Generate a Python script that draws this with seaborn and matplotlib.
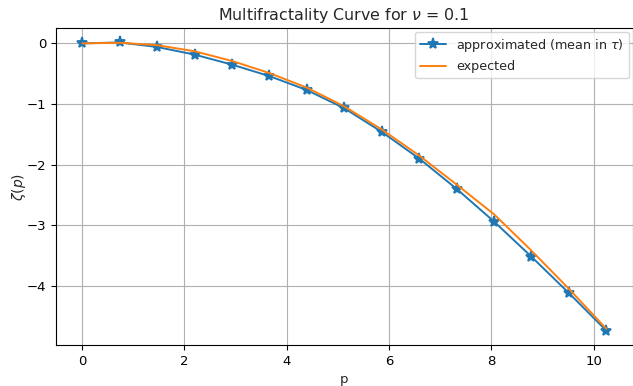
import numpy as np
import pandas as pd
import matplotlib
matplotlib.use("Agg")
import matplotlib.pyplot as plt
import seaborn as sns

p_values = [0.0, 0.732, 1.464, 2.196, 2.928, 3.66, 4.392, 5.124, 5.856, 6.588, 7.32, 8.052, 8.784, 9.516, 10.248]
zeta_approx = [0.0, 0.016, -0.06, -0.185, -0.35, -0.54, -0.77, -1.07, -1.46, -1.90, -2.40, -2.94, -3.52, -4.12, -4.74]
zeta_expected = [0.0, 0.01, -0.03, -0.13, -0.29, -0.49, -0.73, -1.04, -1.42, -1.85, -2.33, -2.82, -3.42, -4.05, -4.71]

sns.set_style("ticks")
plt.rcParams['font.family'] = ['DejaVu Sans']

fig, ax = plt.subplots(figsize=(6.33, 3.86), dpi=100)
fig.subplots_adjust(left=56/633, right=632.5/633, top=1-28/386, bottom=1-345/386)
df = pd.DataFrame({"p": p_values, "approx": zeta_approx, "expected": zeta_expected})
sns.lineplot(data=df, x="p", y="approx", marker="*", markersize=8, markeredgecolor="#1f77b4",
             markeredgewidth=1.3, color="#1f77b4", linewidth=1.4,
             label=r"approximated (mean in $\tau$)", ax=ax)
sns.lineplot(data=df, x="p", y="expected", color="#ff7f0e", linewidth=1.4, label="expected", ax=ax)
ax.grid(True, color="#b0b0b0", linewidth=0.8)
ax.set_axisbelow(True)
for s in ax.spines.values():
    s.set_visible(True)
    s.set_linewidth(0.8)
    s.set_color("black")
ax.tick_params(direction="out", length=3.5, width=0.8, colors="black", labelsize=9.5)
ax.set_xlabel("p", fontsize=9.5)
ax.set_ylabel(r"$\zeta(p)$", fontsize=10, labelpad=-1)
ax.set_title(r"Multifractality Curve for $\nu$ = 0.1", fontsize=11.4)
ax.legend(loc="upper right", fontsize=9.2, borderaxespad=0.3)
fig.savefig("out.png", dpi=100)
